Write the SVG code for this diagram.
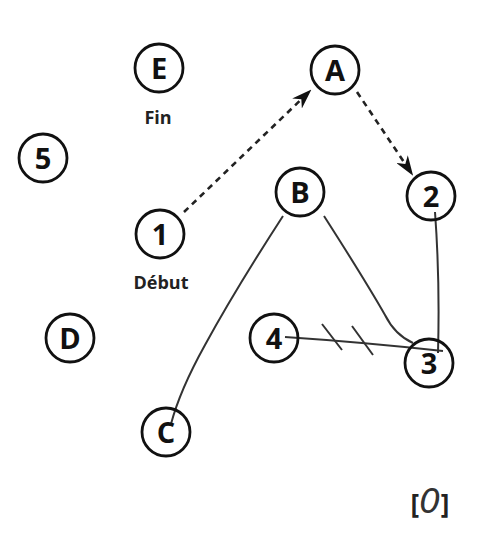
<svg xmlns="http://www.w3.org/2000/svg" width="497" height="542" viewBox="0 0 497 542">
<style>
.node circle{fill:none;stroke:#111;stroke-width:2.8}
.node text{font-family:"Open Sans","Noto Sans",sans-serif;font-weight:700;font-size:29px;fill:#111;text-anchor:middle}
.lbl{font-family:"Open Sans","Noto Sans",sans-serif;font-weight:700;font-size:18px;fill:#222;text-anchor:middle}
.dash{fill:none;stroke:#222;stroke-width:2.6;stroke-dasharray:6 5}
.solid{fill:none;stroke:#333;stroke-width:2}
</style>
<defs>
<marker id="arr" viewBox="0 0 20 14" refX="18" refY="7" markerWidth="20" markerHeight="14" markerUnits="userSpaceOnUse" orient="auto">
<path d="M0,0 L20,7 L0,14 L6,7 Z" fill="#111"/>
</marker>
</defs>
<rect width="497" height="542" fill="#fff"/>
<g id="connectors">
<path class="dash" d="M184,212 L310,91" marker-end="url(#arr)"/>
<path class="dash" d="M357,92 L412,174" marker-end="url(#arr)"/>
<path class="solid" d="M283,216 Q235,290 205,345 Q180,390 171,424"/>
<path class="solid" d="M324,216 Q365,280 385,315 Q395,335 413,343"/>
<path class="solid" d="M435,212 Q440,280 438,353"/>
<path class="solid" d="M285,337 Q360,342 443,351"/>
<path class="solid" d="M322,324 L342,350 M352,326 L373,355"/>
</g>
<g id="node-E" class="node"><circle cx="159" cy="68" r="24"/><text x="159" y="79">E</text></g>
<text id="label-fin" class="lbl" x="158" y="124">Fin</text>
<g id="node-A" class="node"><circle cx="335" cy="70" r="24"/><text x="335" y="81">A</text></g>
<g id="node-5" class="node"><circle cx="43" cy="158" r="24"/><text x="43" y="169">5</text></g>
<g id="node-B" class="node"><circle cx="300" cy="192" r="24"/><text x="300" y="203">B</text></g>
<g id="node-2" class="node"><circle cx="431" cy="196" r="24"/><text x="431" y="207">2</text></g>
<g id="node-1" class="node"><circle cx="160" cy="234" r="24"/><text x="160" y="245">1</text></g>
<text id="label-debut" class="lbl" x="161" y="289">Début</text>
<g id="node-D" class="node"><circle cx="70" cy="338" r="24"/><text x="70" y="349">D</text></g>
<g id="node-4" class="node"><circle cx="274" cy="338" r="24"/><text x="274" y="349">4</text></g>
<g id="node-3" class="node"><circle cx="429" cy="363" r="24"/><text x="429" y="374">3</text></g>
<g id="node-C" class="node"><circle cx="166" cy="432" r="24"/><text x="166" y="443">C</text></g>
<text id="mark" x="430" y="513" font-family="'Open Sans','Noto Sans',sans-serif" font-weight="700" font-size="26" fill="#222" text-anchor="middle">[<tspan font-family="'DejaVu Sans',sans-serif" font-weight="300" font-style="italic" font-size="34" fill="#333">0</tspan>]</text>
</svg>
